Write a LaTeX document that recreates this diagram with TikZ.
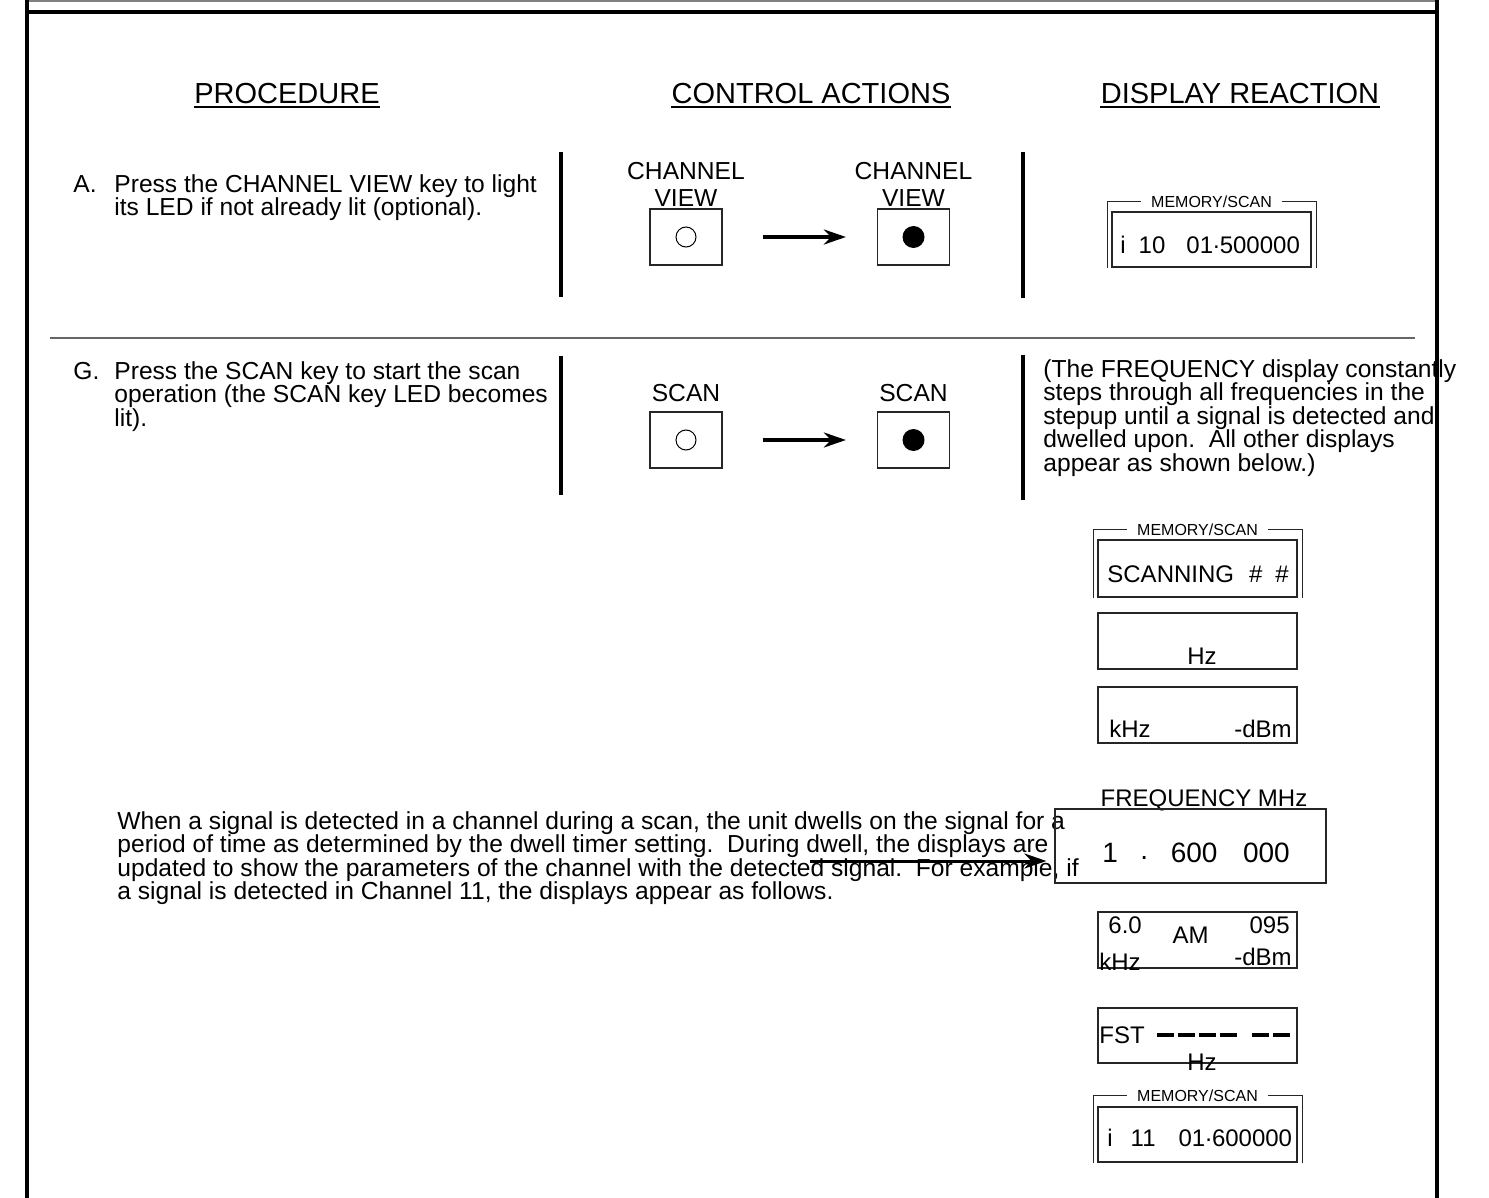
\documentclass[tikz,border=0pt]{standalone}
\usepackage{fontspec}
\setmainfont{Liberation Sans}
\usetikzlibrary{arrows.meta, positioning, calc}

\newcommand{\dispdot}[1]{\raisebox{#1}{.}}

\begin{document}
\begin{tikzpicture}[
  x=0.5pt, y=-0.5pt,
  body/.style={font=\fontsize{12.3}{11.75}\selectfont, inner sep=0pt,
               align=left, anchor=north west},
  head/.style={font=\fontsize{14.5}{16}\selectfont, inner sep=0pt, anchor=base},
  keylbl/.style={font=\fontsize{12.3}{13.5}\selectfont, inner sep=0pt, align=center},
  keybox/.style={draw=black!85, line width=0.6pt, minimum width=36pt,
                 minimum height=28pt, inner sep=0pt},
  ledoff/.style={draw, circle, minimum size=10pt, inner sep=0pt, line width=0.5pt},
  ledon/.style={fill, circle, minimum size=11pt, inner sep=0pt},
  disp/.style={draw=black!85, line width=0.6pt, minimum width=99.5pt,
               minimum height=28pt, inner sep=0pt},
  bracket/.style={draw=black!85, line width=0.6pt},
  dtxt/.style={font=\fontsize{12}{13}\selectfont, inner sep=0pt},
  bigtxt/.style={font=\fontsize{14}{15}\selectfont, inner sep=0pt},
  memlbl/.style={font=\fontsize{8}{9}\selectfont, fill=white, inner xsep=5pt, inner ysep=0pt},
  bar/.style={line width=2pt},
  arr/.style={-{Stealth[length=11pt, width=7.5pt, inset=3.5pt]}, line width=1.7pt},
]
\useasboundingbox (0,0) rectangle (1489,1198);

%% frame
\draw[gray, line width=0.8pt] (27,1) -- (1437,1);
\draw[line width=1.8pt] (27,12) -- (1437,12);
\draw[line width=2pt] (27,0) -- (27,1198);
\draw[line width=2pt] (1437,0) -- (1437,1198);

%% column heads
\node[head] (hproc) at (287,104) {PROCEDURE};
\node[head] (hctrl) at (811,104) {CONTROL ACTIONS};
\node[head] (hdisp) at (1240,104) {DISPLAY REACTION};
\foreach \h in {hproc, hctrl, hdisp}
  \draw[line width=0.9pt] ([yshift=-1.5pt]\h.base west) -- ([yshift=-1.5pt]\h.base east);

%% step A
\node[body] (stepA) at (73,174) {\vphantom{Pl}A.\\\mbox{}};
\node[body] (procA) at (114,174) {Press the CHANNEL VIEW key to light\\its LED if not already lit (optional).};
\draw[bar] (561,152) -- (561,297);
\draw[bar] (1023,152) -- (1023,298);

\node[keybox] (keyA1) at (686,237) {};
\node[keybox] (keyA2) at (913.5,237) {};
\node[ledoff] at (keyA1) {};
\node[ledon] at (keyA2) {};
\node[keylbl, above=0.5pt of keyA1] (lblA1) {CHANNEL\\VIEW};
\node[keylbl, above=0.5pt of keyA2] (lblA2) {CHANNEL\\VIEW};
\draw[arr, shorten <=20pt, shorten >=15.5pt] (keyA1) -- (keyA2);

\node[disp, minimum height=27.5pt] (memA) at (1211.5,239.5) {};
\draw[bracket] ([xshift=-2pt]memA.south west) |- ([yshift=5pt]memA.north)
  -| ([xshift=2.5pt]memA.south east);
\node[memlbl] (memAlbl) at ([yshift=5pt]memA.north) {MEMORY/SCAN};
\node[dtxt, anchor=base west] (memAval) at (1120,253.5)
  {i\hspace{6.5pt}10\hspace{10.5pt}01\dispdot{2.3pt}500000};

%% divider
\draw[gray!80!black, line width=0.8pt] (50,338) -- (1415,338);

%% step G
\node[body] (stepG) at (73,361) {\vphantom{Pl}G.\\\mbox{}};
\node[body] (procG) at (114,361) {Press the SCAN key to start the scan\\operation (the SCAN key LED becomes\\lit).};
\draw[bar] (561,356) -- (561,495);
\draw[bar] (1023,355) -- (1023,500);

\node[keybox] (keyG1) at (686,440) {};
\node[keybox] (keyG2) at (913.5,440) {};
\node[ledoff] at (keyG1) {};
\node[ledon] at (keyG2) {};
\node[keylbl, above=4.5pt of keyG1] (lblG1) {SCAN};
\node[keylbl, above=4.5pt of keyG2] (lblG2) {SCAN};
\draw[arr, shorten <=20pt, shorten >=15.5pt] (keyG1) -- (keyG2);

\node[body] (reactG) at (1043,359) {(The FREQUENCY display constantly\\steps through all frequencies in the\\stepup until a signal is detected and\\dwelled upon.\ \ All other displays\\appear as shown below.)};

%% displays while scanning
\node[disp, minimum height=28.5pt] (memG) at (1197.5,568.5) {};
\draw[bracket] ([xshift=-2pt]memG.south west) |- ([yshift=5pt]memG.north)
  -| ([xshift=2.5pt]memG.south east);
\node[memlbl] (memGlbl) at ([yshift=5pt]memG.north) {MEMORY/SCAN};
\node[dtxt, anchor=base west] (memGval) at (1107,582.5)
  {SCANNING\hspace{7.5pt}\#\hspace{6.5pt}\#};

\node[disp] (hzG) at (1197.5,641) {};
\node[dtxt, anchor=base] (hzGval) at (1202,664) {Hz};

\node[disp] (kdG) at (1197.5,715) {};
\node[dtxt, anchor=base west] (kdGkhz) at (1109,737) {kHz};
\node[dtxt, anchor=base east] (kdGdbm) at (1292,737) {-dBm};

%% dwell note
\node[body] (dwellnote) at (117,811) {When a signal is detected in a channel during a scan, the unit dwells on the signal for a\\period of time as determined by the dwell timer setting.\ \ During dwell, the displays are\\updated to show the parameters of the channel with the detected signal.\ \ For example, if\\a signal is detected in Channel 11, the displays appear as follows.};

%% displays while dwelling
\node[dtxt, anchor=base] (freqlbl) at (1204,806.5) {FREQUENCY MHz};
\node[disp, minimum width=135.5pt, minimum height=37pt] (freqBox) at (1190.5,846) {};
\node[bigtxt, anchor=base west] (freqval) at (1102,862)
  {1\hspace{11.2pt}\dispdot{1.5pt}\hspace{11.3pt}600\hspace{12.8pt}000};

\coordinate (dwellpt) at (810,861);
\draw[arr, line width=1.5pt, shorten >=4pt] (dwellpt) -- (dwellpt -| freqBox.west);

\node[disp] (amBox) at (1197.5,940) {};
\node[dtxt, anchor=base west] (amBw) at (1108,933) {6.0};
\node[dtxt, anchor=base] (amBmode) at (1190.5,943) {AM};
\node[dtxt, anchor=base east] (amBsig) at (1290,933) {095};
\node[dtxt, anchor=base west] (amBkhz) at (1099,970) {kHz};
\node[dtxt, anchor=base east] (amBdbm) at (1292,965) {-dBm};

\node[disp, minimum height=27.5pt] (fstBox) at (1197.5,1035.5) {};
\node[dtxt, anchor=base west] (fstlbl) at (1099,1043.5) {FST};
\draw[line width=2pt, dash pattern=on 8.5pt off 2pt] (1157,1035) -- (1238,1035);
\draw[line width=2pt, dash pattern=on 8.5pt off 2pt] (1252,1035) -- (1290,1035);
\node[dtxt, anchor=base] (fsthz) at (1202,1070.5) {Hz};

\node[disp, minimum height=27.5pt] (memD) at (1197.5,1134.5) {};
\draw[bracket] ([xshift=-2pt]memD.south west) |- ([yshift=5.5pt]memD.north)
  -| ([xshift=2.5pt]memD.south east);
\node[memlbl] (memDlbl) at ([yshift=5.5pt]memD.north) {MEMORY/SCAN};
\node[dtxt, anchor=base west] (memDval) at (1107,1146.5)
  {i\hspace{9pt}11\hspace{11.5pt}01\dispdot{2.3pt}600000};

\end{tikzpicture}
\end{document}
